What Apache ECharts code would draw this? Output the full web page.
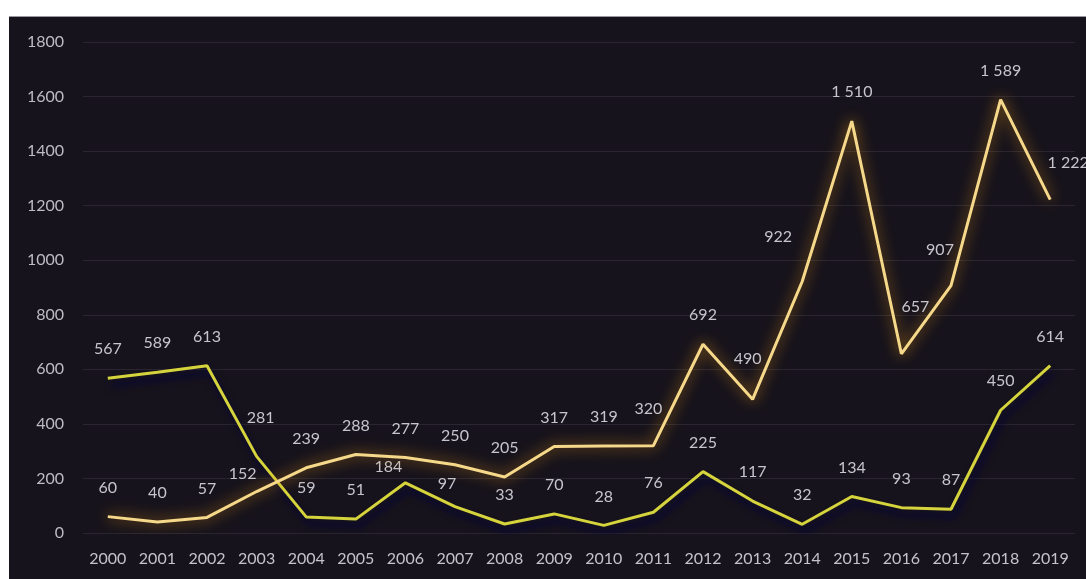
<!DOCTYPE html>
<html>
<head>
<meta charset="utf-8">
<script src="https://cdn.jsdelivr.net/npm/echarts@6/dist/echarts.min.js"></script>
<style>
  html, body { margin: 0; padding: 0; background: #ffffff; }
  #chart { position: absolute; left: 9px; top: 16px; width: 1077px; height: 563px; border-top: 1px solid #9a9a9e; box-sizing: border-box; }
</style>
</head>
<body>
<div id="chart"></div>
<script>
// 年份.
const years = ['2000', '2001', '2002', '2003', '2004', '2005', '2006', '2007', '2008', '2009',
  '2010', '2011', '2012', '2013', '2014', '2015', '2016', '2017', '2018', '2019']
// 橙色线.
const orangeValues = [60, 40, 57, 152, 239, 288, 277, 250, 205, 317, 319, 320, 692, 490, 922, 1510, 657, 907, 1589, 1222]
// 黄绿色线.
const greenValues = [567, 589, 613, 281, 59, 51, 184, 97, 33, 70, 28, 76, 225, 117, 32, 134, 93, 87, 450, 614]
const yTicks = [0, 200, 400, 600, 800, 1000, 1200, 1400, 1600, 1800]

const fmt = v => String(v).replace(/\B(?=(\d{3})+(?!\d))/g, ' ')

// 个别标签的偏移.
const orangeOffsets = { 3: [-14, 11], 11: [-5, -8], 13: [-5, -11], 14: [-24, -16], 16: [14, -18], 17: [-11, -7], 19: [18, -8] }
const greenOffsets = { 3: [4, -10], 6: [-17, 13], 7: [-8, 6] }

const layoutFor = offsets => params => {
  const o = offsets[params.dataIndex]
  return o ? { dx: o[0], dy: o[1], hideOverlap: false } : { hideOverlap: false }
}

const labelStyle = {
  show: true,
  position: 'top',
  distance: 20,
  color: '#c6c5cd',
  fontSize: 16,
  fontFamily: 'Lato',
  formatter: p => fmt(p.value)
}

const chart = echarts.init(document.getElementById('chart'))
chart.setOption({
  backgroundColor: '#17131c',
  animation: false,
  grid: { left: 74, right: 11, top: 25, bottom: 46 },
  xAxis: {
    type: 'category',
    data: years,
    boundaryGap: true,
    axisLine: { show: false },
    axisTick: { show: false },
    axisLabel: { color: '#c4c3ca', fontSize: 16, fontFamily: 'Lato', margin: 18, interval: 0 }
  },
  yAxis: {
    type: 'value',
    min: yTicks[0],
    max: yTicks[yTicks.length - 1],
    interval: 200,
    axisLine: { show: false },
    axisTick: { show: false },
    axisLabel: { color: '#bdbcc4', fontSize: 16, fontFamily: 'Lato', margin: 19, formatter: v => String(v) },
    splitLine: { lineStyle: { color: '#2a2530', width: 1 } }
  },
  series: [
    {
      type: 'line',
      data: greenValues,
      symbol: 'circle',
      symbolSize: 2,
      showSymbol: true,
      itemStyle: { color: 'rgba(0,0,0,0)', borderWidth: 0 },
      lineStyle: {
        color: '#d6d43c',
        width: 3,
        shadowColor: 'rgba(3, 3, 60, 1)',
        shadowBlur: 7,
        shadowOffsetY: 7,
        shadowOffsetX: 3
      },
      label: labelStyle,
      labelLayout: layoutFor(greenOffsets),
      z: 2
    },
    {
      type: 'line',
      data: orangeValues,
      symbol: 'circle',
      symbolSize: 2,
      showSymbol: true,
      itemStyle: { color: 'rgba(0,0,0,0)', borderWidth: 0 },
      lineStyle: {
        color: '#f6d88a',
        width: 3,
        shadowColor: 'rgba(230, 150, 20, 0.85)',
        shadowBlur: 14
      },
      label: labelStyle,
      labelLayout: layoutFor(orangeOffsets),
      z: 3
    }
  ]
})
</script>
</body>
</html>
